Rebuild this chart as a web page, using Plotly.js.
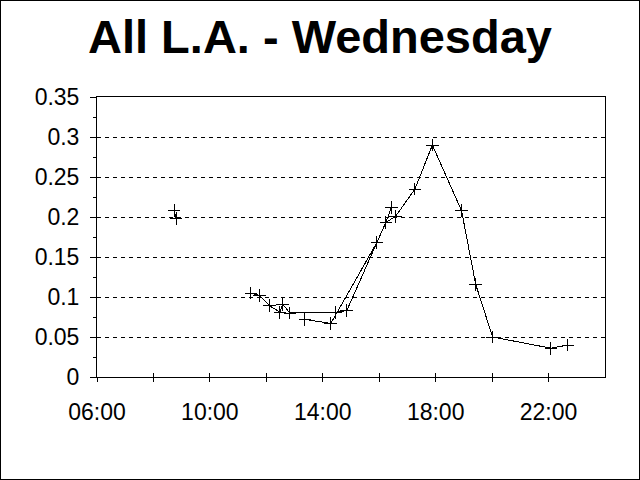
<!DOCTYPE html>
<html>
<head>
<meta charset="utf-8">
<script src="https://cdn.plot.ly/plotly-3.0.1.min.js"></script>
<style>
  html, body { margin: 0; padding: 0; background: #fff; }
  #chart { width: 638px; height: 478px; border: 1px solid #000; }
  #chart path { shape-rendering: crispEdges; }
</style>
</head>
<body>
<div id="chart"></div>
<script>
// ---- data ----
const chartTitle = 'All L.A. - Wednesday';

const earlyTimes  = ['08:44', '08:48'];
const earlyValues = [0.208, 0.198];

const mainTimes  = ['11:27', '11:46', '12:07', '12:29', '12:35', '12:50', '14:28', '14:51',
                    '15:55', '16:14', '16:35', '17:16', '17:53', '18:55', '19:25', '20:01',
                    '22:05', '22:41'];
const mainValues = [0.105, 0.102, 0.089, 0.081, 0.091, 0.080, 0.081, 0.083,
                    0.168, 0.193, 0.201, 0.235, 0.290, 0.208, 0.116, 0.050,
                    0.036, 0.040];

const secondTimes  = ['13:22', '14:17', '15:55', '16:14', '16:26'];
const secondValues = [0.072, 0.067, 0.168, 0.193, 0.212];

const xTickVals  = [6, 8, 10, 12, 14, 16, 18, 20, 22];
const xTickText  = ['06:00', '', '10:00', '', '14:00', '', '18:00', '', '22:00'];
const xRange     = [6, 24];

const yTickVals  = [0, 0.05, 0.1, 0.15, 0.2, 0.25, 0.3, 0.35];
const yTickText  = ['0', '0.05', '0.1', '0.15', '0.2', '0.25', '0.3', '0.35'];
const yRange     = [0, 0.35];

// ---- helpers ----
function toHours(t) {
  const p = t.split(':');
  return Number(p[0]) + Number(p[1]) / 60;
}

const markerStyle = { symbol: 'cross-thin-open', size: 9, color: '#000', line: { width: 1, color: '#000' } };
const lineStyle = { color: '#000', width: 1 };

function series(times, values) {
  return {
    type: 'scatter', mode: 'lines+markers',
    x: times.map(toHours), y: values,
    line: lineStyle, marker: markerStyle,
    hoverinfo: 'skip', showlegend: false, cliponaxis: false
  };
}

const traces = [
  series(earlyTimes, earlyValues),
  series(mainTimes, mainValues),
  series(secondTimes, secondValues)
];

const fontFamily = '"Liberation Sans", Arial, sans-serif';

const layout = {
  width: 638, height: 478,
  paper_bgcolor: '#fff', plot_bgcolor: '#fff',
  margin: { l: 96, r: 34, t: 96, b: 102, pad: 0 },
  font: { family: fontFamily, color: '#000', size: 23 },
  title: {
    text: chartTitle,
    font: { family: fontFamily, size: 47, weight: 700, color: '#000' },
    x: 0.5, xanchor: 'center',
    yref: 'container', y: 0.925, yanchor: 'middle'
  },
  showlegend: false,
  xaxis: {
    range: xRange, tickmode: 'array', tickvals: xTickVals, ticktext: xTickText,
    ticks: 'outside', ticklen: 4, tickwidth: 1, tickcolor: '#000',
    showline: true, linecolor: '#000', linewidth: 1, mirror: true,
    showgrid: false, zeroline: false, ticklabelstandoff: 10,
    tickfont: { family: fontFamily, size: 23, color: '#000' },
    fixedrange: true
  },
  xaxis2: {
    overlaying: 'x', anchor: 'y', range: xRange,
    tickmode: 'array', tickvals: xTickVals, ticktext: xTickText,
    ticks: 'inside', ticklen: 4, tickwidth: 1, tickcolor: '#000',
    showticklabels: false, showline: false, showgrid: false, zeroline: false,
    fixedrange: true
  },
  yaxis: {
    range: yRange, tickmode: 'array', tickvals: yTickVals, ticktext: yTickText,
    ticks: 'outside', ticklen: 6, tickwidth: 1, tickcolor: '#000',
    minor: { dtick: 0.025, tick0: 0, ticks: 'outside', ticklen: 3, tickwidth: 1, tickcolor: '#000', showgrid: false },
    showline: true, linecolor: '#000', linewidth: 1, mirror: true,
    showgrid: true, gridcolor: '#000', gridwidth: 1, griddash: '4px,4px',
    zeroline: false, ticklabelstandoff: 6,
    tickfont: { family: fontFamily, size: 23, color: '#000' },
    fixedrange: true
  }
};

// invisible trace so xaxis2 (inner half of the crossing x ticks) is drawn
traces.push({ type: 'scatter', x: [], y: [], xaxis: 'x2', yaxis: 'y', showlegend: false, hoverinfo: 'skip' });

Plotly.newPlot('chart', traces, layout, { staticPlot: true, displayModeBar: false });
</script>
</body>
</html>
